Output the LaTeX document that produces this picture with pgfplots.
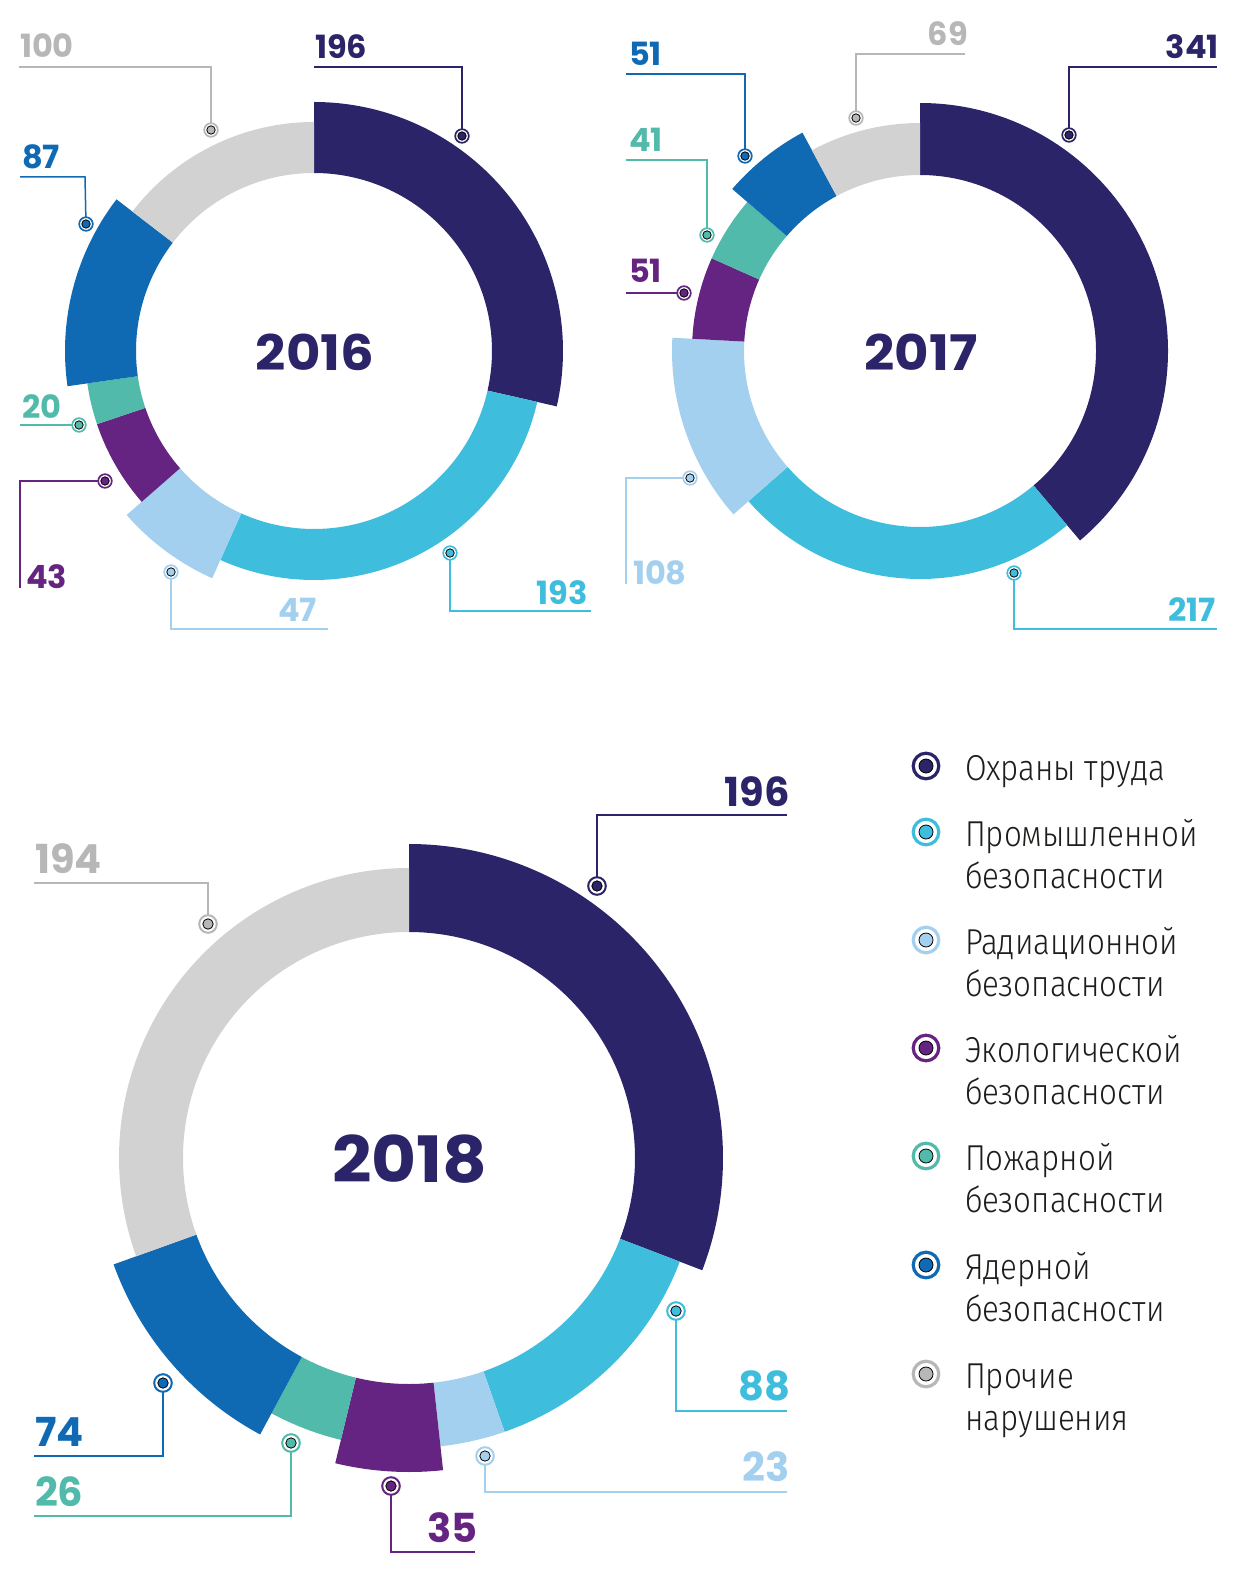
\documentclass[border=0pt]{standalone}
\usepackage{pgfplots}
\pgfplotsset{compat=1.18}
\usepackage{pgfplotstable}
\usepackage{fontspec}
\setmainfont{Fira Sans}
\newfontfamily\numfont[FakeStretch=1.0]{Poppins}
\newfontfamily\yearfont[FakeStretch=1.08]{Poppins}
\newfontfamily\legfont[FakeStretch=0.87]{Fira Sans Light}

\definecolor{cNavy}{HTML}{2B2468}
\definecolor{cCyan}{HTML}{3FBDDD}
\definecolor{cLight}{HTML}{A4D0F0}
\definecolor{cPurple}{HTML}{662482}
\definecolor{cTeal}{HTML}{52BAAA}
\definecolor{cBlue}{HTML}{106AB3}
\definecolor{cGray}{HTML}{D1D2D1}
\definecolor{cGrayT}{HTML}{B6B7B6}
\definecolor{cText}{HTML}{1D1D1B}

\pgfplotstableread{
val col thick
196 cNavy 1
193 cCyan 0
47 cLight 1
43 cPurple 0
20 cTeal 0
87 cBlue 1
100 cGray 0
}\tabA
\pgfplotstableread{
val col thick
341 cNavy 1
217 cCyan 0
108 cLight 1
51 cPurple 0
41 cTeal 0
51 cBlue 1
69 cGray 0
}\tabB
\pgfplotstableread{
val col thick
196 cNavy 1
88 cCyan 0
23 cLight 0
35 cPurple 1
26 cTeal 0
74 cBlue 1
194 cGray 0
}\tabC

% #1 table, #2 cx, #3 cy, #4 rin, #5 rnorm, #6 rthick
\newcommand\donut[6]{%
  \pgfplotstablegetrowsof{#1}\pgfmathtruncatemacro\nrows{\pgfplotsretval-1}%
  \gdef\tot{0}%
  \foreach \i in {0,...,\nrows}{%
    \pgfplotstablegetelem{\i}{val}\of{#1}%
    \pgfmathsetmacro\tmp{\tot+\pgfplotsretval}\xdef\tot{\tmp}}%
  \gdef\acc{0}%
  \foreach \i in {0,...,\nrows}{%
    \pgfplotstablegetelem{\i}{val}\of{#1}\let\segval\pgfplotsretval
    \pgfplotstablegetelem{\i}{col}\of{#1}\let\segcol\pgfplotsretval
    \pgfplotstablegetelem{\i}{thick}\of{#1}\let\segthk\pgfplotsretval
    \pgfmathsetmacro\aS{90-\acc/\tot*360}%
    \pgfmathsetmacro\aE{90-(\acc+\segval)/\tot*360}%
    \pgfmathsetmacro\ro{\segthk==1 ? #6 : #5}%
    \edef\cmd{\noexpand\fill[\segcol]
      (axis cs:{#2+#4*cos(\aS)},{#3-#4*sin(\aS)}) --
      (axis cs:{#2+\ro*cos(\aS)},{#3-\ro*sin(\aS)})
      arc[start angle=\aS, end angle=\aE, radius=\ro*0.5pt] --
      (axis cs:{#2+#4*cos(\aE)},{#3-#4*sin(\aE)})
      arc[start angle=\aE, end angle=\aS, radius=#4*0.5pt] -- cycle;}%
    \cmd
    \pgfmathsetmacro\tmp{\acc+\segval}\xdef\acc{\tmp}%
  }%
}

% leader: #1 colour, #2 path, #3 x, #4 y (marker)
\newcommand\leader[4]{%
  \addplot[draw=#1, line width=0.75pt, no marks] coordinates {#2};
  \addplot[only marks, mark=*, mark size=3.4pt, mark options={draw=#1, fill=white, line width=0.85pt}] coordinates {(#3,#4)};
  \addplot[only marks, mark=*, mark size=2.1pt, mark options={draw=none, fill=#1}] coordinates {(#3,#4)};
}
\newcommand\leaderB[4]{%
  \addplot[draw=#1, line width=1pt, no marks] coordinates {#2};
  \addplot[only marks, mark=*, mark size=4.4pt, mark options={draw=#1, fill=white, line width=1pt}] coordinates {(#3,#4)};
  \addplot[only marks, mark=*, mark size=2.6pt, mark options={draw=none, fill=#1}] coordinates {(#3,#4)};
}
\newcommand\legmark[2]{%
  \addplot[only marks, mark=*, mark size=6.4pt, mark options={draw=#1, fill=white, line width=1.6pt}] coordinates {(926,#2)};
  \addplot[only marks, mark=*, mark size=3.5pt, mark options={draw=none, fill=#1}] coordinates {(926,#2)};
}

\newcommand\nsmall{\numfont\bfseries\fontsize{16pt}{16pt}\selectfont}
\newcommand\nbig{\numfont\bfseries\fontsize{20pt}{20pt}\selectfont}
\newcommand\lgf{\legfont\fontsize{18pt}{18pt}\selectfont}

\begin{document}
\begin{tikzpicture}
\begin{axis}[
  scale only axis, width=621pt, height=794.5pt,
  xmin=0, xmax=1242, ymin=0, ymax=1589, y dir=reverse,
  hide axis, clip=false,
  every node/.style={inner sep=0pt},
]
\path (axis cs:0,0) rectangle (axis cs:1242,1589);

% ---- donuts ----
\donut{\tabA}{314}{351}{178}{229}{249}
\donut{\tabB}{920}{351}{176}{228}{248}
\donut{\tabC}{409}{1158}{226}{290}{314}

% ---- 2016 leaders ----
\leader{cGrayT}{(19,67)(211,67)(211,130)}{211}{130}
\leader{cNavy}{(314,67)(462,67)(462,136)}{462}{136}
\leader{cBlue}{(20,177)(85,177)(86,224)}{86}{224}
\leader{cTeal}{(20,425)(79,425)}{79}{425}
\leader{cPurple}{(105,481)(20,481)(20,588)}{105}{481}
\leader{cLight}{(171,572)(171,629)(328,629)}{171}{572}
\leader{cCyan}{(450,553)(450,611)(591,611)}{450}{553}

% ---- 2017 leaders ----
\leader{cGrayT}{(965,54)(856,54)(856,118)}{856}{118}
\leader{cNavy}{(1217,67)(1069,67)(1069,135)}{1069}{135}
\leader{cBlue}{(626,74)(745,74)(745,156)}{745}{156}
\leader{cTeal}{(626,160)(707,160)(707,235)}{707}{235}
\leader{cPurple}{(626,293)(684,293)}{684}{293}
\leader{cLight}{(690,478)(626,478)(626,584)}{690}{478}
\leader{cCyan}{(1014,573)(1014,629)(1217,629)}{1014}{573}

% ---- 2018 leaders ----
\leaderB{cGrayT}{(34,883)(208,883)(208,924)}{208}{924}
\leaderB{cNavy}{(787,815)(597,815)(597,886)}{597}{886}
\leaderB{cCyan}{(676,1311)(676,1411)(787,1411)}{676}{1311}
\leaderB{cLight}{(485,1456)(485,1492)(787,1492)}{485}{1456}
\leaderB{cPurple}{(391,1486)(391,1552)(475,1552)}{391}{1486}
\leaderB{cTeal}{(291,1443)(291,1516)(34,1516)}{291}{1443}
\leaderB{cBlue}{(163,1383)(163,1456)(34,1456)}{163}{1383}

% ---- value labels 2016 ----
\node[anchor=base west, text=cGrayT, font=\nsmall] at (axis cs:13,58) {100};
\node[anchor=base west, text=cNavy, font=\nsmall] at (axis cs:308,59) {196};
\node[anchor=base west, text=cBlue, font=\nsmall] at (axis cs:15,169) {87};
\node[anchor=base west, text=cTeal, font=\nsmall] at (axis cs:15,418) {20};
\node[anchor=base west, text=cPurple, font=\nsmall] at (axis cs:19,588) {43};
\node[anchor=base east, text=cLight, font=\nsmall] at (axis cs:324,621) {47};
\node[anchor=base east, text=cCyan, font=\nsmall] at (axis cs:595,604) {193};
% ---- value labels 2017 ----
\node[anchor=base east, text=cGrayT, font=\nsmall] at (axis cs:975,46) {69};
\node[anchor=base east, text=cNavy, font=\nsmall] at (axis cs:1226,59) {341};
\node[anchor=base west, text=cBlue, font=\nsmall] at (axis cs:622,66) {51};
\node[anchor=base west, text=cTeal, font=\nsmall] at (axis cs:622,152) {41};
\node[anchor=base west, text=cPurple, font=\nsmall] at (axis cs:622,283) {51};
\node[anchor=base west, text=cLight, font=\nsmall] at (axis cs:626,584) {108};
\node[anchor=base east, text=cCyan, font=\nsmall] at (axis cs:1223,621) {217};
% ---- value labels 2018 ----
\node[anchor=base west, text=cGrayT, font=\nbig] at (axis cs:28,873) {194};
\node[anchor=base east, text=cNavy, font=\nbig] at (axis cs:797,806) {196};
\node[anchor=base east, text=cCyan, font=\nbig] at (axis cs:797,1400) {88};
\node[anchor=base east, text=cLight, font=\nbig] at (axis cs:797,1481) {23};
\node[anchor=base east, text=cPurple, font=\nbig] at (axis cs:485,1542) {35};
\node[anchor=base west, text=cTeal, font=\nbig] at (axis cs:28,1506) {26};
\node[anchor=base west, text=cBlue, font=\nbig] at (axis cs:28,1446) {74};

% ---- years ----
\node[text=cNavy, font={\yearfont\bfseries\fontsize{24.5pt}{24pt}\selectfont}] at (axis cs:315,352) {2016};
\node[text=cNavy, font={\yearfont\bfseries\fontsize{24.5pt}{24pt}\selectfont}] at (axis cs:921,352) {2017};
\node[text=cNavy, font={\yearfont\bfseries\fontsize{32pt}{32pt}\selectfont}] at (axis cs:410,1159) {2018};

% ---- legend ----
\legmark{cNavy}{766}
\legmark{cCyan}{832}
\legmark{cLight}{940}
\legmark{cPurple}{1048}
\legmark{cTeal}{1156}
\legmark{cBlue}{1265}
\legmark{cGrayT}{1374}
\node[anchor=base west, text=cText, font=\lgf] at (axis cs:958,780) {Охраны труда};
\node[anchor=base west, text=cText, font=\lgf] at (axis cs:958,846) {Промышленной};
\node[anchor=base west, text=cText, font=\lgf] at (axis cs:958,888) {безопасности};
\node[anchor=base west, text=cText, font=\lgf] at (axis cs:958,954) {Радиационной};
\node[anchor=base west, text=cText, font=\lgf] at (axis cs:958,996) {безопасности};
\node[anchor=base west, text=cText, font=\lgf] at (axis cs:958,1062) {Экологической};
\node[anchor=base west, text=cText, font=\lgf] at (axis cs:958,1104) {безопасности};
\node[anchor=base west, text=cText, font=\lgf] at (axis cs:958,1170) {Пожарной};
\node[anchor=base west, text=cText, font=\lgf] at (axis cs:958,1212) {безопасности};
\node[anchor=base west, text=cText, font=\lgf] at (axis cs:958,1279) {Ядерной};
\node[anchor=base west, text=cText, font=\lgf] at (axis cs:958,1321) {безопасности};
\node[anchor=base west, text=cText, font=\lgf] at (axis cs:958,1388) {Прочие};
\node[anchor=base west, text=cText, font=\lgf] at (axis cs:958,1430) {нарушения};
\end{axis}
\end{tikzpicture}
\end{document}
